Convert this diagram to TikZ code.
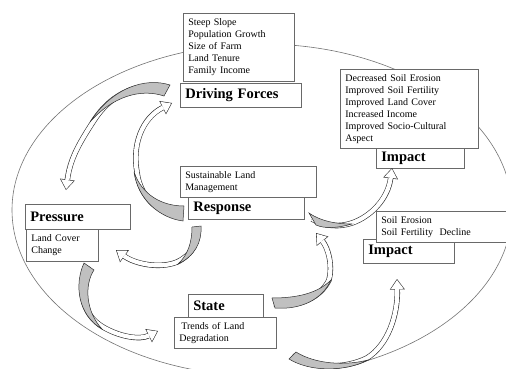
\documentclass[tikz,border=0pt]{standalone}
\usepackage{fontspec}
\setmainfont{Liberation Serif}
\usetikzlibrary{arrows.meta}
\definecolor{boxgrey}{RGB}{105,105,105}
\definecolor{rimgrey}{RGB}{115,115,115}
\definecolor{backgrey}{RGB}{192,192,192}
\definecolor{edgeblack}{RGB}{45,45,45}

\begin{document}
\begin{tikzpicture}[
    x=1pt, y=-1pt,
    listbox/.style={rectangle, draw=boxgrey, line width=0.7pt, fill=white, anchor=north west, align=left, inner xsep=5pt, inner ysep=1pt, font=\fontsize{10}{12.1}\selectfont},
    headbox/.style={rectangle, draw=boxgrey, line width=0.7pt, fill=white, anchor=north west, align=left, inner xsep=5pt, inner ysep=1pt, font=\fontsize{14.5}{16}\selectfont\bfseries},
    rim/.style={draw=rimgrey, line width=0.6pt},
    band/.style={line width=4.2pt, white, shorten >=1pt, -{Triangle[width=12.7pt,length=8.9pt,line width=0pt]},
        preaction={draw=edgeblack, line width=5.4pt, shorten >=0pt, -{Triangle[width=15pt,length=10.5pt,line width=0pt]}}},
    back/.style={fill=backgrey, draw=edgeblack, line width=0.5pt}
  ]
  \useasboundingbox (0,0) rectangle (506,369);
  \clip (0,0) rectangle (506,369);

  % Frame
  \draw[rim] (262,210) ellipse [x radius=250pt, y radius=166pt];

  % Driving forces
  \node[listbox, text width=101pt, minimum height=68pt] (drivers) at (183,13)
    {Steep Slope\\Population Growth\\Size of Farm\\Land Tenure\\Family Income};
  \node[headbox, text width=111pt, minimum height=24pt] (drivhead) at (180,83) {Driving Forces};

  % Impact (gains)
  \node[listbox, text width=128pt, minimum height=79pt] (gains) at (340,69)
    {Decreased Soil Erosion\\Improved Soil Fertility\\Improved Land Cover\\Increased Income\\Improved Socio-Cultural\\Aspect};
  \node[headbox, text width=78pt, minimum height=20pt] (gainhead) at (376,148) {Impact};

  % Response
  \node[listbox, text width=126pt, minimum height=31pt] (slm) at (180,166) {Sustainable Land\\Management};
  \node[headbox, text width=106pt, minimum height=22pt] (resphead) at (188,197) {Response};

  % Pressure
  \node[headbox, text width=95pt, minimum height=25pt] (preshead) at (25,204) {Pressure};
  \node[listbox, text width=62pt, minimum height=32pt] (cover) at (26,229) {Land Cover\\Change};

  % State
  \node[headbox, text width=65pt, minimum height=23pt] (statehead) at (188,294) {State};
  \node[listbox, text width=92pt, minimum height=31pt] (trends) at (174,317) {\hspace*{2pt}Trends of Land\\Degradation};

  % Impact (losses)
  \node[headbox, text width=81pt, minimum height=24pt] (losshead) at (363,239) {Impact};
  \node[listbox, text width=122pt, minimum height=31pt] (losses) at (376,211) {Soil Erosion\\Soil Fertility~ Decline};

  % Curved arrows
  \coordinate (aT) at (166,89);  \coordinate (aH) at (66,190);
  \coordinate (bT) at (182,216); \coordinate (bH) at (172,103);
  \coordinate (cT) at (197,228); \coordinate (cH) at (116,250);
  \coordinate (dT) at (88,266);  \coordinate (dH) at (158,331);
  \coordinate (eT) at (274,304); \coordinate (eH) at (316,233);
  \coordinate (fT) at (312,219); \coordinate (fH) at (392,168);
  \coordinate (gT) at (292,356); \coordinate (gH) at (397,279);

  \draw[band] (aT) .. controls (143,81) and (112,91) .. (93,122) .. controls (78,145) and (70,160) .. (aH);
  \draw[band] (bT) .. controls (160,215) and (140,198) .. (137,172) .. controls (132,145) and (142,118) .. (bH);
  \draw[band] (cT) .. controls (198,243) and (192,255) .. (177,262) .. controls (160,269) and (135,264) .. (cH);
  \draw[band] (dT) .. controls (77,287) and (81,314) .. (103,327) .. controls (120,337) and (140,340) .. (dH);
  \draw[band] (eT) .. controls (300,307) and (320,298) .. (329,280) .. controls (333,265) and (328,248) .. (eH);
  \draw[band] (fT) .. controls (325,227) and (340,227) .. (352,223) .. controls (372,216) and (388,198) .. (fH);
  \draw[band] (gT) .. controls (312,369) and (345,369) .. (367,358) .. controls (388,345) and (398,315) .. (gH);

  \filldraw[back] (170,85) .. controls (145,77) and (112,88) .. (90,122) .. controls (112,97) and (140,88) .. (164,96) -- cycle;
  \filldraw[back] (183,221) .. controls (160,218) and (138,200) .. (134,172) .. controls (142,195) and (162,206) .. (184,206) -- cycle;
  \filldraw[back] (201,226) .. controls (202,242) and (195,256) .. (178,264) .. controls (188,255) and (192,242) .. (192,227) -- cycle;
  \filldraw[back] (84,263) .. controls (74,285) and (78,315) .. (102,329) .. controls (86,312) and (84,285) .. (94,270) -- cycle;
  \filldraw[back] (275,308) .. controls (300,310) and (322,300) .. (331,280) .. controls (318,293) and (298,298) .. (272,298) -- cycle;
  \filldraw[back] (316,225) .. controls (325,229) and (338,228) .. (352,224) .. controls (338,224) and (322,222) .. (309,213) -- cycle;
  \filldraw[back] (289,359) .. controls (310,372) and (345,372) .. (368,360) .. controls (345,366) and (315,364) .. (296,352) -- cycle;
\end{tikzpicture}
\end{document}
